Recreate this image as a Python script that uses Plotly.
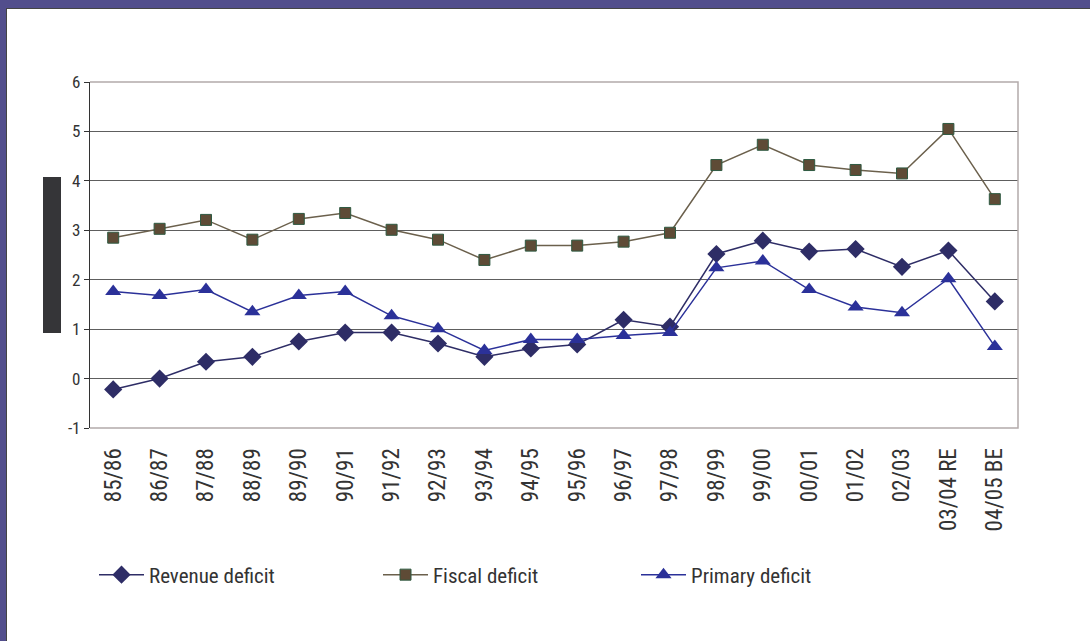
import plotly.graph_objects as go

years = ["85/86", "86/87", "87/88", "88/89", "89/90", "90/91", "91/92", "92/93",
         "93/94", "94/95", "95/96", "96/97", "97/98", "98/99", "99/00", "00/01",
         "01/02", "02/03", "03/04 RE", "04/05 BE"]
revenue_deficit = [-0.22, 0.0, 0.34, 0.44, 0.75, 0.93, 0.93, 0.71, 0.44, 0.61,
                   0.69, 1.19, 1.05, 2.52, 2.79, 2.57, 2.62, 2.26, 2.59, 1.56]
fiscal_deficit = [2.85, 3.03, 3.21, 2.81, 3.23, 3.35, 3.01, 2.81, 2.40, 2.69,
                  2.69, 2.77, 2.95, 4.32, 4.73, 4.32, 4.22, 4.15, 5.05, 3.63]
primary_deficit = [1.76, 1.68, 1.80, 1.35, 1.68, 1.76, 1.27, 1.01, 0.57, 0.79,
                   0.79, 0.87, 0.93, 2.24, 2.38, 1.80, 1.45, 1.33, 2.02, 0.65]
y_ticks = [-1, 0, 1, 2, 3, 4, 5, 6]
y_tick_labels = ["-1", "0", "1", "2", "3", "4", "5", "6"]

W, H = 1090, 641
L, R, T, B = 90, 72, 82, 213
FONT = "Roboto Condensed, DejaVu Sans Condensed, Liberation Sans, sans-serif"


def px_x(p):
    return (p - L) / (W - L - R)


def px_y(p):
    return (H - B - p) / (H - T - B)


fig = go.Figure()
fig.add_trace(go.Scatter(
    x=years, y=revenue_deficit, name="Revenue deficit", mode="lines+markers",
    line=dict(color="#2E2D66", width=1.5),
    marker=dict(symbol="diamond", size=14, color="#2E2D66"),
    legend="legend"
))
fig.add_trace(go.Scatter(
    x=years, y=fiscal_deficit, name="Fiscal deficit", mode="lines+markers",
    line=dict(color="#6B604C", width=1.5),
    marker=dict(symbol="square", size=11, color="#5E4B36",
                line=dict(color="#2F5A42", width=1)),
    legend="legend2"
))
fig.add_trace(go.Scatter(
    x=years, y=primary_deficit, name="Primary deficit", mode="lines+markers",
    line=dict(color="#2B3199", width=1.5),
    marker=dict(symbol="triangle-up", size=14, color="#2B3199"),
    legend="legend3"
))

shapes = [
    # light border on top, right and bottom of plot area
    dict(type="path", xref="paper", yref="paper",
         path="M 0,1 L 1,1 L 1,0 L 0,0", line=dict(color="#B3AAAA", width=1.5),
         layer="above"),
    # purple frame
    dict(type="rect", xref="paper", yref="paper", x0=px_x(0), x1=px_x(W),
         y0=px_y(8), y1=px_y(0), fillcolor="#524E8C", line=dict(width=0)),
    dict(type="line", xref="paper", yref="paper", x0=px_x(6), x1=px_x(W),
         y0=px_y(8.5), y1=px_y(8.5), line=dict(color="#444444", width=1)),
    dict(type="rect", xref="paper", yref="paper", x0=px_x(0), x1=px_x(6),
         y0=px_y(H), y1=px_y(0), fillcolor="#524E8C", line=dict(width=0)),
    dict(type="line", xref="paper", yref="paper", x0=px_x(6.5), x1=px_x(6.5),
         y0=px_y(H), y1=px_y(8.5), line=dict(color="#444444", width=1)),
    # dark box left of the axis
    dict(type="rect", xref="paper", yref="paper", x0=px_x(43), x1=px_x(61),
         y0=px_y(333), y1=px_y(177), fillcolor="#353538", line=dict(width=0)),
]

legend_style = dict(orientation="h", y=px_y(575), yanchor="middle", xanchor="left",
                    itemwidth=45, font=dict(size=21, color="#333333"),
                    bgcolor="rgba(0,0,0,0)")

fig.update_layout(
    width=W, height=H,
    margin=dict(l=L, r=R, t=T, b=B),
    paper_bgcolor="white", plot_bgcolor="white",
    font=dict(family=FONT, color="#333333"),
    showlegend=True,
    legend=dict(legend_style, x=px_x(94)),
    legend2=dict(legend_style, x=px_x(378)),
    legend3=dict(legend_style, x=px_x(636)),
    shapes=shapes,
    xaxis=dict(type="category", categoryarray=years, range=[-0.5, 19.5],
               tickangle=-90, tickfont=dict(size=23, color="#333333"),
               ticks="outside", ticklen=10, tickcolor="rgba(0,0,0,0)",
               showgrid=False, showline=False, zeroline=False),
    xaxis2=dict(overlaying="x", anchor="free", position=1 / 7,
                range=[-0.5, 19.5], tickmode="linear", tick0=-0.5, dtick=1,
                ticks="outside", ticklen=6, tickcolor="#444444",
                showticklabels=False, showgrid=False, zeroline=False,
                showline=True, linecolor="#444444", linewidth=1.2),
    yaxis=dict(range=[-1, 6], tickvals=y_ticks, ticktext=y_tick_labels,
               showgrid=True, gridcolor="#5E5E5E", gridwidth=1, zeroline=False,
               showline=True, linecolor="#333333", linewidth=1.2,
               ticks="outside", ticklen=5, tickcolor="#333333",
               tickfont=dict(size=17, color="#333333")),
)

fig.write_html("out.html", config={"displayModeBar": False},
               post_script="document.body.style.margin = '0';")
